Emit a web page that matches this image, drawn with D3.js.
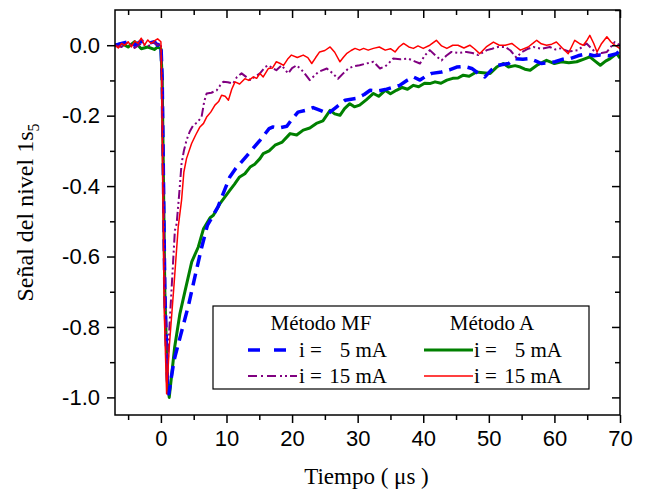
<!DOCTYPE html>
<html>
<head>
<meta charset="utf-8">
<script src="https://cdn.jsdelivr.net/npm/d3@7"></script>
<style>
  body { margin: 0; background: #fff; }
  svg { font-family: "Liberation Serif", "Times New Roman", serif; }
  .axis path, .axis line { stroke: #000; stroke-width: 1.5; }
  .axis text { font-size: 22px; fill: #000; }
</style>
</head>
<body>
<svg id="chart"></svg>
<script>
// datos: [tiempo (µs), señal]
const greenA5 = [
  [-7, 0.0], [-6, 0.005], [-5, -0.005], [-4, 0.01], [-3, -0.01], [-2, -0.005], [-1, -0.012], [-0.5, -0.005], [0, -0.01],
  [0.2, -0.1], [0.6, -0.7], [1.0, -0.96], [1.27, -1.0], [2.1, -0.857], [2.9, -0.762], [3.7, -0.696], [4.7, -0.615],
  [5.7, -0.573], [6.5, -0.521], [7.5, -0.49], [8, -0.483], [9, -0.45], [10.5, -0.412], [11.2, -0.395], [12, -0.374],
  [12.8, -0.365], [13.6, -0.346], [14.3, -0.338], [15.1, -0.322], [15.6, -0.308], [16.5, -0.3], [17.4, -0.284],
  [18.5, -0.275], [19.7, -0.251], [20.7, -0.255], [21.7, -0.241], [22.7, -0.235], [23.7, -0.222], [24.7, -0.215],
  [25.8, -0.185], [26.5, -0.195], [27.3, -0.199], [28, -0.18], [28.8, -0.166], [29.5, -0.175], [30.3, -0.17],
  [31.3, -0.155], [32.4, -0.137], [33.2, -0.145], [34.2, -0.128], [35, -0.138], [35.9, -0.128], [36.8, -0.12],
  [37.6, -0.125], [38.5, -0.114], [39.3, -0.118], [40.2, -0.108], [41, -0.109], [41.8, -0.104], [42.7, -0.108],
  [43.6, -0.099], [44.5, -0.094], [45.3, -0.093], [46.1, -0.085], [47, -0.088], [48.1, -0.076], [49.1, -0.078],
  [50.2, -0.08], [51.2, -0.062], [52.2, -0.052], [53, -0.062], [54, -0.058], [54.8, -0.062], [55.5, -0.068],
  [56.3, -0.071], [57.5, -0.055], [58.8, -0.043], [60, -0.052], [61.1, -0.047], [62.2, -0.05], [63.4, -0.047],
  [64.4, -0.04], [65.4, -0.033], [66.2, -0.045], [67, -0.057], [67.8, -0.045], [68.5, -0.038], [69.5, -0.024], [70, -0.037]
];

const blueMF5 = [
  [-7, 0.0], [-6, 0.005], [-5, 0.01], [-4, 0.0], [-3, 0.012], [-2, 0.005], [-1, 0.01], [-0.5, 0.0], [0, 0.005],
  [0.2, -0.1], [0.6, -0.7], [1.0, -0.95], [1.2, -0.99], [2.0, -0.895], [3.0, -0.824], [4.2, -0.739], [5.3, -0.648],
  [6.2, -0.575], [7.1, -0.511], [8.7, -0.459], [10.5, -0.374], [11.4, -0.35], [12.3, -0.331], [13.6, -0.303],
  [15.1, -0.27], [16.5, -0.237], [17.1, -0.232], [18, -0.235], [19.2, -0.23], [20, -0.21], [20.9, -0.19], [22, -0.185],
  [23.2, -0.177], [24.3, -0.185], [25.5, -0.194], [26.8, -0.175], [28.1, -0.156], [29.8, -0.151], [31, -0.14],
  [31.9, -0.128], [33, -0.13], [34.2, -0.126], [35.3, -0.12], [36.4, -0.114], [37.5, -0.1], [38.5, -0.09],
  [39.5, -0.099], [40.4, -0.088], [41.3, -0.08], [42.8, -0.076], [44, -0.07], [45.1, -0.062], [46.2, -0.06],
  [47.4, -0.066], [48.4, -0.08], [49.4, -0.09], [50.4, -0.07], [51.4, -0.057], [53, -0.052], [54, -0.038],
  [55.2, -0.04], [56.3, -0.038], [57.2, -0.045], [58, -0.052], [59, -0.05], [60.1, -0.047], [61.2, -0.04],
  [62.4, -0.038], [63.6, -0.03], [64.9, -0.024], [66, -0.03], [67, -0.028], [68.3, -0.03], [69.5, -0.024], [70, -0.014]
];

const redA15 = [
  [-7, 0.0], [-6.5, -0.008], [-6, 0.005], [-5.5, 0.0], [-5, 0.01], [-4.5, -0.005], [-4, 0.012], [-3.5, 0.005],
  [-3, 0.02], [-2.5, 0.0], [-2, 0.015], [-1.5, 0.005], [-1, 0.012], [-0.5, 0.018], [0, 0.01],
  [0.1, -0.1], [0.5, -0.75], [0.87, -0.99], [1.3, -0.85], [2.0, -0.68], [2.64, -0.516], [3.15, -0.44], [3.5, -0.36],
  [3.9, -0.322], [4.3, -0.3], [4.68, -0.279], [5.3, -0.255], [5.95, -0.232], [6.5, -0.222], [6.97, -0.204],
  [7.6, -0.19], [8.24, -0.17], [8.8, -0.16], [9.25, -0.142], [9.8, -0.145], [10.3, -0.156], [10.8, -0.125],
  [11.3, -0.104], [12, -0.11], [12.8, -0.095], [13.4, -0.1], [14.1, -0.09], [14.6, -0.094], [15.1, -0.08],
  [15.6, -0.09], [16.4, -0.066], [17, -0.065], [17.6, -0.047], [18.2, -0.052], [18.7, -0.057], [19.3, -0.04],
  [19.9, -0.028], [20.8, -0.035], [21.7, -0.028], [22.4, -0.035], [23, -0.052], [23.6, -0.035], [24.2, -0.019],
  [25, -0.015], [25.8, -0.005], [26.5, -0.02], [27.3, -0.047], [27.8, -0.035], [28.3, -0.024], [29, -0.015],
  [29.6, -0.009], [30.3, -0.014], [30.9, -0.009], [31.6, -0.014], [32.4, -0.009], [33.3, -0.005], [34.2, -0.014],
  [35, -0.01], [35.7, -0.019], [36.3, -0.005], [37, 0.005], [37.8, -0.005], [38.5, -0.009], [39.2, -0.002],
  [40, -0.009], [41, 0.0], [42, 0.014], [42.8, -0.002], [43.6, -0.009], [44.5, 0.0], [45.3, 0.0], [46.2, -0.008],
  [47.1, 0.0], [47.8, -0.01], [48.6, -0.024], [49.6, -0.005], [50.7, 0.009], [51.6, 0.0], [52.5, 0.0], [53.5, 0.005],
  [54.2, -0.005], [54.8, -0.014], [56, -0.005], [56.7, 0.005], [57.3, 0.014], [58, 0.004], [58.8, 0.0], [59.6, 0.003],
  [60.3, 0.009], [61.2, -0.008], [62.1, -0.024], [62.6, -0.005], [63.1, 0.014], [63.8, 0.005], [64.4, 0.0],
  [65, 0.015], [65.4, 0.028], [66, 0.005], [66.5, -0.019], [67.2, 0.005], [68, 0.024], [68.6, 0.01], [69.2, 0.0], [70, -0.01]
];

const purpleMF15 = [
  [-7, 0.0], [-6, -0.005], [-5, 0.008], [-4, -0.008], [-3, 0.005], [-2, -0.003], [-1, 0.008], [-0.5, 0.0], [0, 0.005],
  [0.2, -0.1], [0.6, -0.7], [0.95, -0.95], [1.3, -0.8], [2.13, -0.526], [2.4, -0.507], [2.8, -0.42], [3.15, -0.336],
  [3.5, -0.3], [3.9, -0.27], [4.4, -0.245], [4.93, -0.227], [5.5, -0.22], [6.2, -0.204], [6.6, -0.16], [6.97, -0.137],
  [7.7, -0.135], [8.5, -0.128], [9, -0.115], [9.5, -0.104], [10.2, -0.105], [11, -0.109], [11.6, -0.09], [12.3, -0.08],
  [13, -0.09], [13.6, -0.099], [14.3, -0.09], [15.1, -0.08], [15.9, -0.062], [16.4, -0.057], [17, -0.065],
  [17.6, -0.071], [18.4, -0.057], [19.4, -0.08], [20, -0.065], [20.7, -0.057], [21.7, -0.075], [22.7, -0.099],
  [24, -0.076], [25.3, -0.066], [26.2, -0.08], [27, -0.095], [27.8, -0.08], [28.6, -0.066], [29.4, -0.06],
  [30.3, -0.057], [31.3, -0.052], [32.4, -0.047], [33.4, -0.066], [34.2, -0.06], [34.7, -0.052], [35.4, -0.038],
  [36.5, -0.04], [37.7, -0.038], [38.6, -0.045], [39.5, -0.052], [40.2, -0.03], [41, -0.014], [41.9, -0.03],
  [42.8, -0.043], [43.5, -0.03], [44.3, -0.019], [45.5, -0.022], [46.6, -0.019], [47.5, -0.022], [48.4, -0.028],
  [49.7, -0.014], [50.5, -0.01], [51.4, -0.005], [52.5, -0.005], [53.3, -0.015], [54.2, -0.035], [55, -0.02],
  [56, -0.01], [56.8, -0.005], [58, -0.01], [59.3, -0.005], [60.1, -0.012], [60.9, -0.009], [62.2, -0.018],
  [63.6, -0.014], [64.9, 0.005], [65.7, -0.01], [66.5, -0.024], [67.2, -0.022], [68, -0.019], [68.6, -0.005],
  [69.2, 0.009], [70, 0.0]
];

const xMajor = [0, 10, 20, 30, 40, 50, 60, 70];
const xMinor = [-5, 5, 15, 25, 35, 45, 55, 65];
const yMajor = [0.0, -0.2, -0.4, -0.6, -0.8, -1.0];
const yMinor = [0.1, -0.1, -0.3, -0.5, -0.7, -0.9];

// estilos de cada serie
const series = [
  { data: greenA5,    color: '#008000', width: 3,   dash: null,          legDash: null },
  { data: blueMF5,    color: '#0000ff', width: 3.5, dash: '12,7',        legDash: '12,14' },
  { data: purpleMF15, color: '#800080', width: 2,   dash: '9,3,2,3,2,3', legDash: '9,4,2,4,9,4,2,3,2,3' },
  { data: redA15,     color: '#ff0000', width: 1.5, dash: null,          legDash: null }
];

const W = 645, H = 494;
const margin = { top: 10, right: 25, bottom: 79, left: 115 };

const svg = d3.select('#chart').attr('width', W).attr('height', H);

const x = d3.scaleLinear().domain([-7, 70]).range([margin.left, W - margin.right]);
const y = d3.scaleLinear().domain([-1.05, 0.1]).range([H - margin.bottom, margin.top]);

// clip para las curvas
svg.append('clipPath').attr('id', 'clip')
  .append('rect')
  .attr('x', margin.left).attr('y', margin.top)
  .attr('width', W - margin.left - margin.right)
  .attr('height', H - margin.top - margin.bottom);

const line = d3.line().x(d => x(d[0])).y(d => y(d[1]));

const plot = svg.append('g').attr('clip-path', 'url(#clip)');
series.forEach(s => {
  plot.append('path')
    .datum(s.data)
    .attr('fill', 'none')
    .attr('stroke', s.color)
    .attr('stroke-width', s.width)
    .attr('stroke-linejoin', 'round')
    .attr('stroke-dasharray', s.dash)
    .attr('d', line);
});

// ejes
const bottom = H - margin.bottom, right = W - margin.right;

svg.append('g').attr('class', 'axis')
  .attr('transform', `translate(0,${bottom})`)
  .call(d3.axisBottom(x).tickValues(xMajor).tickSize(8).tickPadding(7).tickFormat(d3.format('d')));
svg.append('g').attr('class', 'axis')
  .attr('transform', `translate(0,${bottom})`)
  .call(d3.axisBottom(x).tickValues(xMinor).tickSize(5).tickFormat(''));

svg.append('g').attr('class', 'axis')
  .attr('transform', `translate(${margin.left},0)`)
  .call(d3.axisLeft(y).tickValues(yMajor).tickSize(8).tickPadding(7).tickFormat(d => d.toFixed(1)));
svg.append('g').attr('class', 'axis')
  .attr('transform', `translate(${margin.left},0)`)
  .call(d3.axisLeft(y).tickValues(yMinor.filter(v => v < 0.1)).tickSize(5).tickFormat(''));

// ticks espejo (arriba y derecha, hacia dentro)
svg.append('g').attr('class', 'axis')
  .attr('transform', `translate(0,${margin.top})`)
  .call(d3.axisTop(x).tickValues(xMajor).tickSize(-8).tickFormat(''));
svg.append('g').attr('class', 'axis')
  .attr('transform', `translate(0,${margin.top})`)
  .call(d3.axisTop(x).tickValues(xMinor).tickSize(-5).tickFormat(''));
svg.append('g').attr('class', 'axis')
  .attr('transform', `translate(${right},0)`)
  .call(d3.axisRight(y).tickValues(yMajor).tickSize(-8).tickFormat(''));
svg.append('g').attr('class', 'axis')
  .attr('transform', `translate(${right},0)`)
  .call(d3.axisRight(y).tickValues(yMinor).tickSize(-5).tickFormat(''));

svg.selectAll('.axis .domain').remove();

svg.append('rect')
  .attr('x', margin.left).attr('y', margin.top)
  .attr('width', right - margin.left).attr('height', bottom - margin.top)
  .attr('fill', 'none').attr('stroke', '#000').attr('stroke-width', 1.5);

// títulos de los ejes
svg.append('text')
  .attr('x', (margin.left + right) / 2 - 1).attr('y', 484)
  .attr('text-anchor', 'middle')
  .attr('font-size', 23)
  .style('white-space', 'pre')
  .text('Tiempo ( μs )');

const yt = svg.append('text')
  .attr('transform', `translate(33,${(margin.top + bottom) / 2}) rotate(-90)`)
  .attr('text-anchor', 'middle')
  .attr('font-size', 24);
yt.append('tspan').text('Señal del nivel 1s');
yt.append('tspan').attr('font-size', 16).attr('dy', 6).text('5');

// leyenda
const lg = svg.append('g');
lg.append('rect')
  .attr('x', 213).attr('y', 306).attr('width', 376).attr('height', 83)
  .attr('fill', '#fff').attr('stroke', '#000').attr('stroke-width', 1.2);

const legendCols = [
  { title: 'Método MF', cx: 321, lx0: 248, lx1: 297, tx: 299, nx: 387, items: [series[1], series[2]] },
  { title: 'Método A',  cx: 492, lx0: 424, lx1: 473, tx: 474, nx: 562, items: [series[0], series[3]] }
];
const legendLabels = ['5 mA', '15 mA'];

legendCols.forEach(c => {
  lg.append('text').attr('x', c.cx).attr('y', 330)
    .attr('text-anchor', 'middle').attr('font-size', 21).text(c.title);
  c.items.forEach((s, i) => {
    const yy = 357 + i * 26;
    lg.append('line')
      .attr('x1', c.lx0).attr('x2', c.lx1)
      .attr('y1', yy - 7).attr('y2', yy - 7)
      .attr('stroke', s.color).attr('stroke-width', s.width)
      .attr('stroke-dasharray', s.legDash);
    lg.append('text').attr('x', c.tx).attr('y', yy).attr('font-size', 21).text('i =');
    lg.append('text').attr('x', c.nx).attr('y', yy).attr('font-size', 21)
      .attr('text-anchor', 'end').text(legendLabels[i]);
  });
});
</script>
</body>
</html>
